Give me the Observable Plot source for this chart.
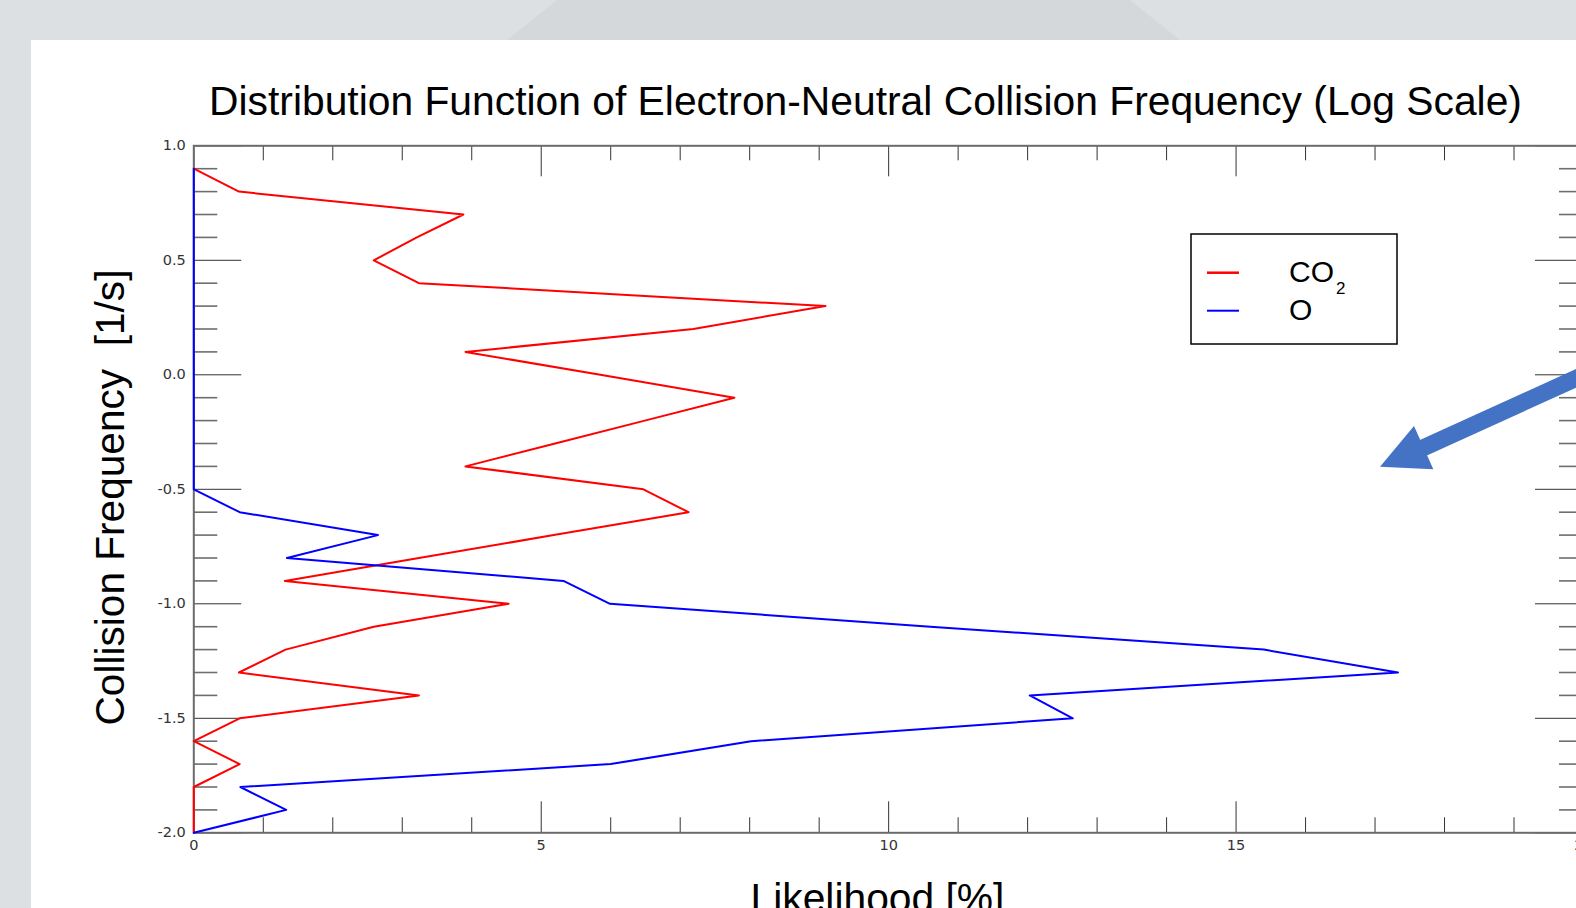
<!DOCTYPE html>
<html><head><meta charset="utf-8">
<script src="https://cdn.jsdelivr.net/npm/d3@7"></script>
<script src="https://cdn.jsdelivr.net/npm/@observablehq/plot@0.6"></script>
<style>
html,body{margin:0;padding:0;width:1576px;height:908px;overflow:hidden;background:#dde0e2;}
#bg{position:absolute;left:0;top:0;}
#panel{position:absolute;left:31px;top:40px;width:1600px;height:900px;background:#ffffff;}
#chart{position:absolute;left:0;top:0;}
#overlay{position:absolute;left:0;top:0;}
#overlay text{white-space:pre;}
</style></head><body>
<svg id="bg" width="1576" height="908"><polygon points="507,40 557,0 1130,0 1180,40" fill="#d5d8da"/></svg>
<div id="panel"></div>
<div id="chart"></div>
<svg id="overlay" width="1576" height="908"></svg>
<script>
// ---- data ----
const freq = [0.9, 0.8, 0.7, 0.6, 0.5, 0.4, 0.3, 0.2, 0.1, 0.0, -0.1, -0.2, -0.3, -0.4, -0.5,
              -0.6, -0.7, -0.8, -0.9, -1.0, -1.1, -1.2, -1.3, -1.4, -1.5, -1.6, -1.7, -1.8, -1.9, -2.0];
const co2  = [0, 0.65, 3.88, 3.21, 2.59, 3.24, 9.09, 7.19, 3.91, 5.85, 7.78, 6.49, 5.20, 3.91, 6.47,
              7.12, 5.18, 3.24, 1.31, 4.53, 2.59, 1.32, 0.65, 3.24, 0.66, 0, 0.66, 0, 0, 0];
const oxy  = [0, 0, 0, 0, 0, 0, 0, 0, 0, 0, 0, 0, 0, 0, 0,
              0.66, 2.65, 1.34, 5.32, 5.99, 10.6, 15.40, 17.33, 12.03, 12.65, 8.02, 6.00, 0.67, 1.33, 0];
const seriesNames = ["CO", "O"];
const seriesColors = ["#ff0000", "#0000ff"];
const xTickLabels = [0, 5, 10, 15, 20];
const yTickLabels = [1.0, 0.5, 0.0, -0.5, -1.0, -1.5, -2.0];
const titleText = "Distribution Function of Electron-Neutral Collision Frequency (Log Scale)";
const xLabelText = "Likelihood [%]";
const yLabelText = "Collision Frequency  [1/s]";

// ---- layout ----
const W = 1600, H = 908;
const X0 = 193.3, X20 = 1583, YT = 145.3, YB = 832.3;
const plotW = X20 - X0, plotH = YB - YT;

const xMinor = d3.range(0, 21).filter(d => d % 5 !== 0);
const yMinor = d3.range(-20, 11).filter(d => d % 5 !== 0).map(d => d / 10);

const co2Rows = freq.map((f, i) => ({f, v: co2[i]}));
const oRows = freq.map((f, i) => ({f, v: oxy[i]}));

const tickDark = "#333333", tickGrey = "#6e6e6e";
const chart = Plot.plot({
  width: W, height: H,
  marginLeft: X0, marginRight: W - X20, marginTop: YT, marginBottom: H - YB,
  style: {background: "transparent", maxWidth: "none", overflow: "visible",
          fontFamily: "'DejaVu Sans'", fontSize: "14.5px", color: "#333"},
  x: {domain: [0, 20]},
  y: {domain: [-2, 1]},
  marks: [
    Plot.ruleX(xMinor, {x: d => d, insetTop: plotH - 15, stroke: tickDark, strokeWidth: 1}),
    Plot.ruleX(xMinor, {x: d => d, insetBottom: plotH - 15, stroke: tickDark, strokeWidth: 1}),
    Plot.ruleX(xTickLabels, {x: d => d, insetTop: plotH - 31, stroke: tickDark, strokeWidth: 1}),
    Plot.ruleX(xTickLabels, {x: d => d, insetBottom: plotH - 31, stroke: tickDark, strokeWidth: 1}),
    Plot.ruleY(yMinor, {y: d => d, insetRight: plotW - 24, stroke: tickGrey, strokeWidth: 1.6}),
    Plot.ruleY(yMinor, {y: d => d, insetLeft: plotW - 24, stroke: tickGrey, strokeWidth: 1.6}),
    Plot.ruleY(yTickLabels, {y: d => d, insetRight: plotW - 48, stroke: tickDark, strokeWidth: 1}),
    Plot.ruleY(yTickLabels, {y: d => d, insetLeft: plotW - 48, stroke: tickDark, strokeWidth: 1}),
    Plot.frame({stroke: "#6b6b6b", strokeWidth: 2}),
    Plot.axisX(xTickLabels, {anchor: "bottom", tickSize: 0, tickPadding: 7, tickFormat: d => String(d), label: null, fill: "#333"}),
    Plot.axisY(yTickLabels, {anchor: "left", tickSize: 0, tickPadding: 8, tickFormat: d => d.toFixed(1), label: null, fill: "#333"}),
    Plot.line(co2Rows, {x: "v", y: "f", stroke: seriesColors[0], strokeWidth: 2}),
    Plot.line(oRows, {x: "v", y: "f", stroke: seriesColors[1], strokeWidth: 2})
  ]
});
document.getElementById("chart").appendChild(chart);

// ---- overlay texts, legend, annotation arrow ----
const ov = d3.select("#overlay");
const ctx = document.createElement("canvas").getContext("2d");
function fitSize(text, family, target) {
  ctx.font = `100px ${family}`;
  return 100 * target / ctx.measureText(text).width;
}
const sans = "'Liberation Sans', Arial, sans-serif";
ov.append("text").attr("x", 865.5).attr("y", 114.5).attr("text-anchor", "middle")
  .attr("font-family", sans).attr("font-size", fitSize(titleText, sans, 1313)).attr("fill", "#000").text(titleText);
ov.append("text").attr("transform", "translate(123.5,497.5) rotate(-90)").attr("text-anchor", "middle")
  .attr("xml:space", "preserve")
  .attr("font-family", sans).attr("font-size", fitSize(yLabelText, sans, 456)).attr("fill", "#000").text(yLabelText);
ov.append("text").attr("x", 877.5).attr("y", 912).attr("text-anchor", "middle")
  .attr("font-family", sans).attr("font-size", fitSize(xLabelText, sans, 254)).attr("fill", "#000").text(xLabelText);

// legend
ov.append("rect").attr("x", 1191).attr("y", 234).attr("width", 206).attr("height", 110)
  .attr("fill", "#fff").attr("stroke", "#000").attr("stroke-width", 1.5);
ov.append("line").attr("x1", 1207).attr("x2", 1239).attr("y1", 272.7).attr("y2", 272.7)
  .attr("stroke", seriesColors[0]).attr("stroke-width", 2.5);
ov.append("line").attr("x1", 1207).attr("x2", 1239).attr("y1", 310.7).attr("y2", 310.7)
  .attr("stroke", seriesColors[1]).attr("stroke-width", 2);
ov.append("text").attr("x", 1289).attr("y", 281.5).attr("font-family", sans).attr("font-size", 30).attr("fill", "#000").text(seriesNames[0]);
ov.append("text").attr("x", 1336).attr("y", 293.5).attr("font-family", sans).attr("font-size", 17).attr("fill", "#000").text("2");
ov.append("text").attr("x", 1289).attr("y", 320).attr("font-family", sans).attr("font-size", 30).attr("fill", "#000").text(seriesNames[1]);

// annotation arrow
const arrowColor = "#4472c4";
ov.append("line").attr("x1", 1787.5).attr("y1", 282.4).attr("x2", 1419).attr("y2", 449.7)
  .attr("stroke", arrowColor).attr("stroke-width", 17);
ov.append("polygon").attr("points", "1380,466.7 1414,426 1433.3,469.3").attr("fill", arrowColor);
</script>
</body></html>
